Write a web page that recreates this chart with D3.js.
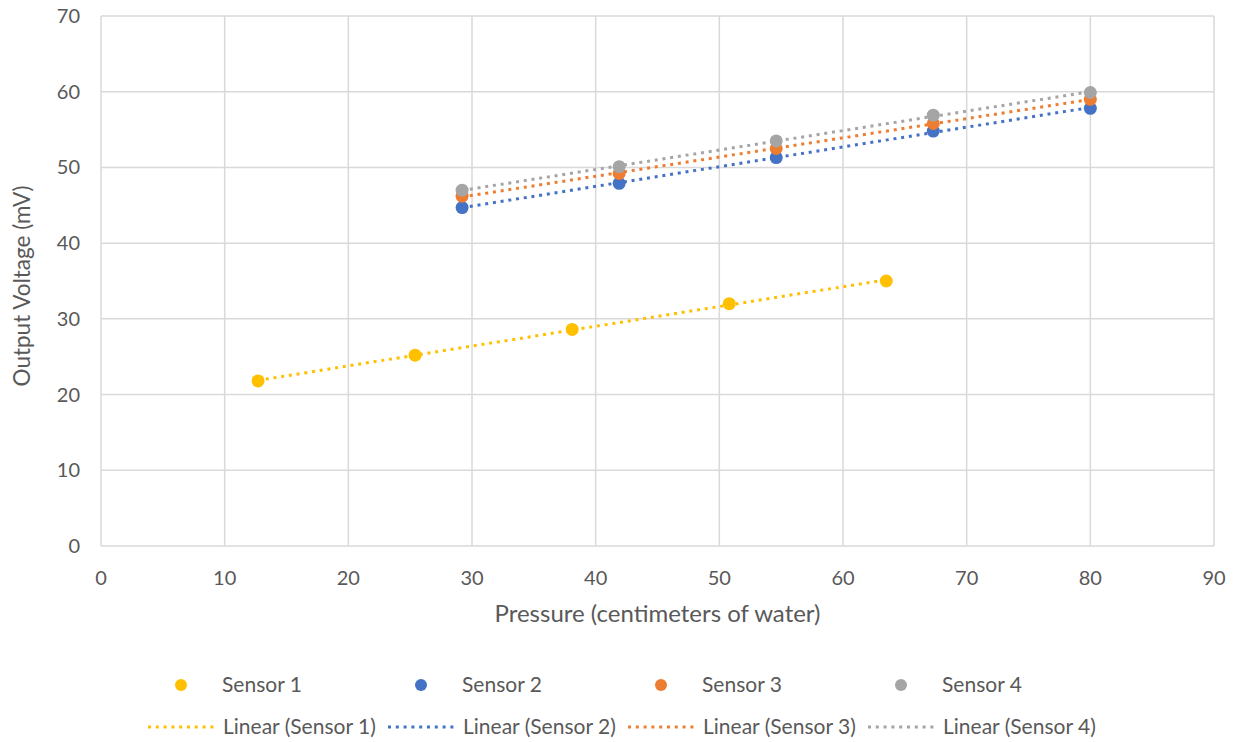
<!DOCTYPE html>
<html>
<head>
<meta charset="utf-8">
<script src="https://cdn.jsdelivr.net/npm/d3@7"></script>
<style>
  body { margin: 0; background: #fff; }
  text { font-family: Lato, "Liberation Sans", sans-serif; fill: #595959; }
</style>
</head>
<body>
<div id="chart"></div>
<script>
const w = 1237;
const h = 742;

// data
const seriesNames = ["Sensor 1", "Sensor 2", "Sensor 3", "Sensor 4"];
const colors = ["#FFC000", "#4472C4", "#ED7D31", "#A5A5A5"];
const pressure1 = [12.7, 25.4, 38.1, 50.8, 63.5];
const pressure234 = [29.2, 41.9, 54.6, 67.3, 80.0];
const sensor1 = [21.8, 25.2, 28.6, 32.0, 35.0];
const sensor2 = [44.7, 47.9, 51.3, 54.8, 57.8];
const sensor3 = [46.2, 49.2, 52.5, 55.8, 59.0];
const sensor4 = [47.0, 50.1, 53.5, 56.9, 59.9];
const xTicks = [0, 10, 20, 30, 40, 50, 60, 70, 80, 90];
const yTicks = [0, 10, 20, 30, 40, 50, 60, 70];

const series = [
  { name: seriesNames[0], color: colors[0], xs: pressure1, ys: sensor1 },
  { name: seriesNames[1], color: colors[1], xs: pressure234, ys: sensor2 },
  { name: seriesNames[2], color: colors[2], xs: pressure234, ys: sensor3 },
  { name: seriesNames[3], color: colors[3], xs: pressure234, ys: sensor4 }
];

const plotLeft = 101, plotRight = 1214, plotTop = 16, plotBottom = 546;
const xScale = d3.scaleLinear().domain([0, 90]).range([plotLeft, plotRight]);
const yScale = d3.scaleLinear().domain([0, 70]).range([plotBottom, plotTop]);

const svg = d3.select('#chart')
  .append('svg')
  .attr('width', w)
  .attr('height', h);

// grid
svg.append('g')
  .selectAll('line')
  .data(yTicks)
  .enter()
  .append('line')
  .attr('x1', plotLeft).attr('x2', plotRight)
  .attr('y1', d => yScale(d)).attr('y2', d => yScale(d))
  .attr('stroke', '#d9d9d9')
  .attr('stroke-width', 1.5);

svg.append('g')
  .selectAll('line')
  .data(xTicks)
  .enter()
  .append('line')
  .attr('x1', d => xScale(d)).attr('x2', d => xScale(d))
  .attr('y1', plotTop).attr('y2', plotBottom)
  .attr('stroke', '#d9d9d9')
  .attr('stroke-width', 1.5);

// tick labels
svg.append('g')
  .selectAll('text')
  .data(yTicks)
  .enter()
  .append('text')
  .attr('x', 80)
  .attr('y', d => yScale(d))
  .attr('dy', '0.35em')
  .attr('text-anchor', 'end')
  .style('font-size', '20px')
  .text(d => d);

svg.append('g')
  .selectAll('text')
  .data(xTicks)
  .enter()
  .append('text')
  .attr('x', d => xScale(d))
  .attr('y', 578)
  .attr('dy', '0.35em')
  .attr('text-anchor', 'middle')
  .style('font-size', '20px')
  .text(d => d);

// axis titles
svg.append('text')
  .attr('transform', 'translate(22,' + 286 + ') rotate(-90)')
  .attr('text-anchor', 'middle')
  .attr('dy', '0.35em')
  .style('font-size', '22.5px')
  .text('Output Voltage (mV)');

svg.append('text')
  .attr('x', (plotLeft + plotRight) / 2)
  .attr('y', 614)
  .attr('dy', '0.35em')
  .attr('text-anchor', 'middle')
  .style('font-size', '24px')
  .text('Pressure (centimeters of water)');

// least squares trend line
function fit(xs, ys) {
  const mx = d3.mean(xs), my = d3.mean(ys);
  let sxy = 0, sxx = 0;
  xs.forEach((x, i) => { sxy += (x - mx) * (ys[i] - my); sxx += (x - mx) * (x - mx); });
  const b = sxy / sxx;
  const a = my - b * mx;
  const x0 = d3.min(xs), x1 = d3.max(xs);
  return [[x0, a + b * x0], [x1, a + b * x1]];
}

const line = d3.line().x(d => xScale(d[0])).y(d => yScale(d[1]));

series.forEach(s => {
  svg.append('path')
    .attr('d', line(fit(s.xs, s.ys)))
    .attr('fill', 'none')
    .attr('stroke', s.color)
    .attr('stroke-width', 3)
    .attr('stroke-dasharray', '3 4.8');
});

series.forEach(s => {
  svg.append('g')
    .selectAll('circle')
    .data(s.xs.map((x, i) => [x, s.ys[i]]))
    .enter()
    .append('circle')
    .attr('cx', d => xScale(d[0]))
    .attr('cy', d => yScale(d[1]))
    .attr('r', 6.5)
    .attr('fill', s.color);
});

// legend
const legend = svg.append('g');
series.forEach((s, i) => {
  const cx = 145 + i * 240;
  legend.append('circle')
    .attr('cx', cx + 36).attr('cy', 685)
    .attr('r', 6)
    .attr('fill', s.color);
  legend.append('text')
    .attr('x', cx + 77).attr('y', 685)
    .attr('dy', '0.35em')
    .style('font-size', '21px')
    .text(s.name);
  legend.append('line')
    .attr('x1', cx + 3).attr('x2', cx + 73)
    .attr('y1', 727).attr('y2', 727)
    .attr('stroke', s.color)
    .attr('stroke-width', 3)
    .attr('stroke-dasharray', '3 4.8');
  legend.append('text')
    .attr('x', cx + 78).attr('y', 727)
    .attr('dy', '0.35em')
    .style('font-size', '21px')
    .text('Linear (' + s.name + ')');
});
</script>
</body>
</html>
